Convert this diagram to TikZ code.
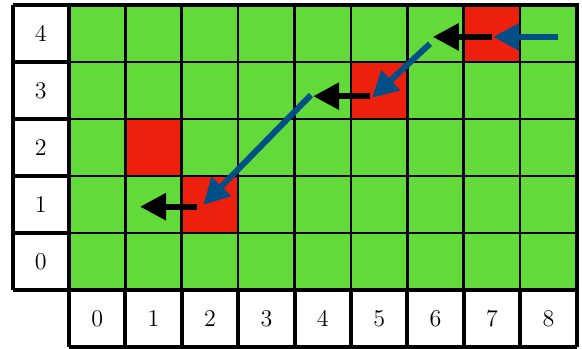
\documentclass[tikz,border=0pt]{standalone}
\usepackage{amsmath}
\usepackage{tikz}
\usetikzlibrary{arrows.meta}
\definecolor{cellgreen}{RGB}{98,218,57}
\definecolor{cellred}{RGB}{237,32,14}
\definecolor{pathblue}{RGB}{0,80,135}

\begin{document}
\begin{tikzpicture}[x=0.99cm,y=1cm,
    hop/.style={line width=3pt,-{Triangle[length=13pt,width=13pt]}},
    lbl/.style={font=\large},
    boardgrid/.style={xstep=0.99cm,ystep=1cm}]
        \useasboundingbox (-1.223,-1.035) rectangle (9.096,5.088);
        % board
        \fill[cellgreen] (0,0) rectangle (9,5);
        \fill[cellred] (7,4) rectangle (8,5);
        \fill[cellred] (5,3) rectangle (6,4);
        \fill[cellred] (1,2) rectangle (2,3);
        \fill[cellred] (2,1) rectangle (3,2);
        \draw[line width=1.3pt,boardgrid] (0,0) grid (9,5);
        \draw[line width=2pt] (0,5) -- (9,5) -- (9,0);
        % row labels
        \fill[white] (-1,0) rectangle (0,5);
        \draw[line width=2pt,boardgrid] (-1,0) grid (0,5);
        \node[lbl] (r0) at (-0.5,0.5) {$0$};
        \node[lbl] (r1) at (-0.5,1.5) {$1$};
        \node[lbl] (r2) at (-0.5,2.5) {$2$};
        \node[lbl] (r3) at (-0.5,3.5) {$3$};
        \node[lbl] (r4) at (-0.5,4.5) {$4$};
        % column labels
        \fill[white] (0,-1) rectangle (9,0);
        \draw[line width=2pt,boardgrid] (0,-1) grid (9,0);
        \node[lbl] (c0) at (0.5,-0.5) {$0$};
        \node[lbl] (c1) at (1.5,-0.5) {$1$};
        \node[lbl] (c2) at (2.5,-0.5) {$2$};
        \node[lbl] (c3) at (3.5,-0.5) {$3$};
        \node[lbl] (c4) at (4.5,-0.5) {$4$};
        \node[lbl] (c5) at (5.5,-0.5) {$5$};
        \node[lbl] (c6) at (6.5,-0.5) {$6$};
        \node[lbl] (c7) at (7.5,-0.5) {$7$};
        \node[lbl] (c8) at (8.5,-0.5) {$8$};
        % path
        \coordinate (b1s) at (8.67,4.44);
        \coordinate (b1e) at (7.52,4.44);
        \coordinate (k1s) at (7.50,4.44);
        \coordinate (k1e) at (6.45,4.44);
        \coordinate (b2s) at (6.40,4.32);
        \coordinate (b2e) at (5.37,3.37);
        \coordinate (k2s) at (5.34,3.40);
        \coordinate (k2e) at (4.33,3.40);
        \coordinate (b3s) at (4.29,3.42);
        \coordinate (b3e) at (2.38,1.49);
        \coordinate (k3s) at (2.27,1.46);
        \coordinate (k3e) at (1.26,1.46);
        \draw[hop,black] (k1s) -- (k1e);
        \draw[hop,black] (k2s) -- (k2e);
        \draw[hop,black] (k3s) -- (k3e);
        \draw[hop,pathblue] (b1s) -- (b1e);
        \draw[hop,pathblue] (b2s) -- (b2e);
        \draw[hop,pathblue] (b3s) -- (b3e);
    \end{tikzpicture}
\end{document}
